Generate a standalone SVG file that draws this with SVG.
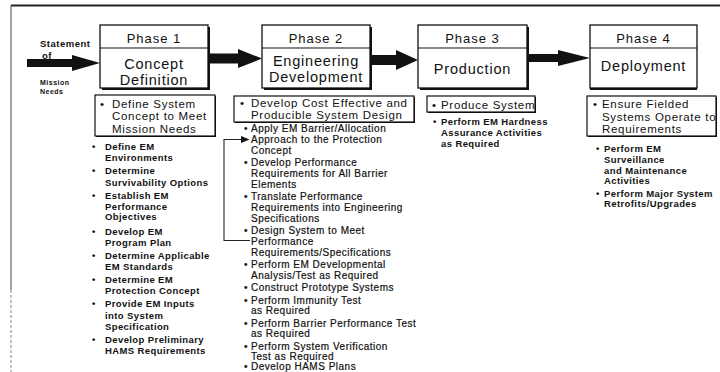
<svg xmlns="http://www.w3.org/2000/svg" width="720" height="372" viewBox="0 0 720 372">
<style>
text{font-family:"Liberation Sans",Arial,Helvetica,sans-serif;fill:#111}
.box{fill:#fff;stroke:#111;stroke-width:1.3}
.sh{fill:#111}
.sub{fill:#fff;stroke:#111;stroke-width:1.2}
.div{stroke:#111;stroke-width:1.2}
.ph{font-size:13px;letter-spacing:1px;text-anchor:middle}
.tt{font-size:14.5px;letter-spacing:.8px;text-anchor:middle}
.sb{font-size:11.5px;letter-spacing:.7px}
.li{font-size:9.5px;font-weight:bold;letter-spacing:.4px}
.l2{font-size:10px;letter-spacing:.5px;stroke:#111;stroke-width:.2}
.lb{font-weight:bold;letter-spacing:.5px}
.arr{fill:#111}
.ln{stroke:#222;stroke-width:1.1;fill:none}
</style>

<g id="frame">
<line x1="11" y1="5.5" x2="720" y2="5.5" stroke="#222" stroke-width="2"/>
<line x1="11" y1="5" x2="11" y2="290" stroke="#444" stroke-width="1"/>
<line x1="11" y1="290" x2="11" y2="372" stroke="#888" stroke-width="1" stroke-dasharray="3 2"/>
</g>

<g id="input-label">
<text class="lb" x="40" y="47" font-size="9.5">Statement</text>
<text class="lb" x="42" y="59" font-size="9.5">of</text>
<text class="lb" x="40" y="85" font-size="7">Mission</text>
<text class="lb" x="40" y="93.5" font-size="7">Needs</text>
</g>

<g id="connectors">
<polygon class="arr" points="27,59 72,59 72,55 100,63 72,71 72,67 27,67"/>
<polygon class="arr" points="208,53.5 238,53.5 238,49 262,58.5 238,68 238,63.5 208,63.5"/>
<polygon class="arr" points="370,55 396,55 396,50 418,60 396,70 396,65 370,65"/>
<polygon class="arr" points="527,54 558,54 558,50 590,58 558,66 558,62 527,62"/>
<path class="ln" d="M243,139.5 H224 V240.5 H250"/>
<polygon class="arr" points="241,136 249.5,139.5 241,143"/>
</g>

<g id="phase1">
<rect class="sh" x="102" y="27" width="108" height="63"/>
<rect class="box" x="100" y="25" width="108" height="63"/>
<line class="div" x1="100" y1="48" x2="208" y2="48"/>
<text class="ph" x="154" y="43">Phase 1</text>
<text class="tt" x="154" y="69">Concept</text>
<text class="tt" x="154" y="85">Definition</text>
<rect class="sh" x="96" y="96" width="120" height="41"/>
<rect class="sub" x="95" y="95" width="120" height="41"/>
<text class="sb" x="100" y="107.5">•</text>
<text class="sb"><tspan x="112" y="107.5">Define System</tspan><tspan x="112" y="120">Concept to Meet</tspan><tspan x="112" y="132.5">Mission Needs</tspan></text>
<text class="li" x="92" y="150">•</text>
<text class="li" x="92" y="174">•</text>
<text class="li" x="92" y="199">•</text>
<text class="li" x="92" y="235">•</text>
<text class="li" x="92" y="259">•</text>
<text class="li" x="92" y="283">•</text>
<text class="li" x="92" y="307">•</text>
<text class="li" x="92" y="343">•</text>
<text class="li">
<tspan x="105" y="150">Define EM</tspan><tspan x="105" y="161">Environments</tspan>
<tspan x="105" y="174">Determine</tspan><tspan x="105" y="186">Survivability Options</tspan>
<tspan x="105" y="199">Establish EM</tspan><tspan x="105" y="209.5">Performance</tspan><tspan x="105" y="220">Objectives</tspan>
<tspan x="105" y="235">Develop EM</tspan><tspan x="105" y="246">Program Plan</tspan>
<tspan x="105" y="259">Determine Applicable</tspan><tspan x="105" y="270">EM Standards</tspan>
<tspan x="105" y="283">Determine EM</tspan><tspan x="105" y="294">Protection Concept</tspan>
<tspan x="105" y="307">Provide EM Inputs</tspan><tspan x="105" y="319">into System</tspan><tspan x="105" y="330">Specification</tspan>
<tspan x="105" y="343">Develop Preliminary</tspan><tspan x="105" y="354">HAMS Requirements</tspan>
</text>
</g>

<g id="phase2">
<rect class="sh" x="264" y="27" width="108" height="63"/>
<rect class="box" x="262" y="25" width="108" height="63"/>
<line class="div" x1="262" y1="48" x2="370" y2="48"/>
<text class="ph" x="316" y="43">Phase 2</text>
<text class="tt" x="316" y="66">Engineering</text>
<text class="tt" x="316" y="82">Development</text>
<rect class="sh" x="235" y="97" width="180" height="26"/>
<rect class="sub" x="234" y="96" width="180" height="26"/>
<text class="sb" x="240" y="107">•</text>
<text class="sb"><tspan x="251" y="107">Develop Cost Effective and</tspan><tspan x="251" y="119">Producible System Design</tspan></text>
<text class="l2" x="244" y="132">•</text>
<text class="l2" x="244" y="166">•</text>
<text class="l2" x="244" y="200">•</text>
<text class="l2" x="244" y="234">•</text>
<text class="l2" x="244" y="268">•</text>
<text class="l2" x="244" y="291">•</text>
<text class="l2" x="244" y="303.5">•</text>
<text class="l2" x="244" y="326.5">•</text>
<text class="l2" x="244" y="349.5">•</text>
<text class="l2" x="244" y="369.5">•</text>
<text class="l2">
<tspan x="251" y="132">Apply EM Barrier/Allocation</tspan><tspan x="251" y="142.8">Approach to the Protection</tspan><tspan x="251" y="153.6">Concept</tspan>
<tspan x="251" y="166">Develop Performance</tspan><tspan x="251" y="176.8">Requirements for All Barrier</tspan><tspan x="251" y="187.6">Elements</tspan>
<tspan x="251" y="200">Translate Performance</tspan><tspan x="251" y="210.8">Requirements into Engineering</tspan><tspan x="251" y="221.6">Specifications</tspan>
<tspan x="251" y="234">Design System to Meet</tspan><tspan x="251" y="244.8">Performance</tspan><tspan x="251" y="255.6">Requirements/Specifications</tspan>
<tspan x="251" y="268">Perform EM Developmental</tspan><tspan x="251" y="278.8">Analysis/Test as Required</tspan>
<tspan x="251" y="291">Construct Prototype Systems</tspan>
<tspan x="251" y="303.5">Perform Immunity Test</tspan><tspan x="251" y="314.3">as Required</tspan>
<tspan x="251" y="326.5">Perform Barrier Performance Test</tspan><tspan x="251" y="337.3">as Required</tspan>
<tspan x="251" y="349.5">Perform System Verification</tspan><tspan x="251" y="360">Test as Required</tspan>
<tspan x="251" y="369.5">Develop HAMS Plans</tspan>
</text>
</g>

<g id="phase3">
<rect class="sh" x="420" y="27" width="109" height="63"/>
<rect class="box" x="418" y="25" width="109" height="63"/>
<line class="div" x1="418" y1="48" x2="527" y2="48"/>
<text class="ph" x="472.5" y="43">Phase 3</text>
<text class="tt" x="472.5" y="74">Production</text>
<rect class="sh" x="428" y="97" width="108" height="16"/>
<rect class="sub" x="427" y="96" width="108" height="16"/>
<text class="sb" x="432" y="108.5">•</text>
<text class="sb" x="441" y="108.5" letter-spacing=".4">Produce System</text>
<text class="li" x="433" y="125">•</text>
<text class="li"><tspan x="441" y="125">Perform EM Hardness</tspan><tspan x="441" y="136">Assurance Activities</tspan><tspan x="441" y="147">as Required</tspan></text>
</g>

<g id="phase4">
<rect class="sh" x="590" y="27" width="107" height="63"/>
<rect class="box" x="590" y="25" width="107" height="63"/>
<line class="div" x1="590" y1="48" x2="697" y2="48"/>
<text class="ph" x="643.5" y="43">Phase 4</text>
<text class="tt" x="643.5" y="71">Deployment</text>
<rect class="sh" x="588" y="97" width="129" height="40"/>
<rect class="sub" x="587" y="96" width="129" height="40"/>
<text class="sb" x="593" y="108">•</text>
<text class="sb" letter-spacing=".3"><tspan x="602" y="108">Ensure Fielded</tspan><tspan x="602" y="120.5">Systems Operate to</tspan><tspan x="602" y="132.5">Requirements</tspan></text>
<text class="li" x="596" y="152">•</text>
<text class="li" x="596" y="196.5">•</text>
<text class="li"><tspan x="604" y="152">Perform EM</tspan><tspan x="604" y="163">Surveillance</tspan><tspan x="604" y="173.5">and Maintenance</tspan><tspan x="604" y="184">Activities</tspan>
<tspan x="604" y="196.5">Perform Major System</tspan><tspan x="604" y="207">Retrofits/Upgrades</tspan></text>
</g>
</svg>
